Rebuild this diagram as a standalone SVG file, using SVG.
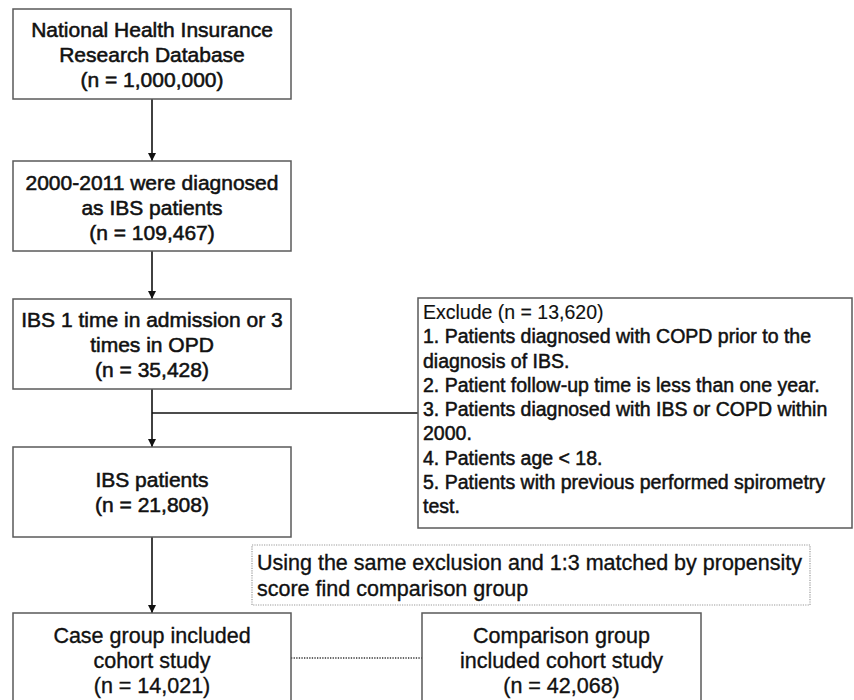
<svg xmlns="http://www.w3.org/2000/svg" width="854" height="700" viewBox="0 0 854 700">
<defs>
<marker id="arr" viewBox="0 0 10 10" refX="10" refY="5" markerWidth="8" markerHeight="9" markerUnits="userSpaceOnUse" orient="auto">
<path d="M0,0 L10,5 L0,10 z" fill="#111"/>
</marker>
<style>
.box{fill:#fff;stroke:#5a5a5a;stroke-width:1.5}
.dbox{fill:#fff;stroke:#9a9a9a;stroke-width:1.2;stroke-dasharray:1.2 1.2}
.t{font-family:"Liberation Sans",Arial,sans-serif;font-size:21px;fill:#111;text-anchor:middle;stroke:#111;stroke-width:0.55}
.b{font-size:21.5px;stroke-width:0.35}
.x{font-family:"Liberation Sans",Arial,sans-serif;font-size:19.5px;fill:#111;stroke:#111;stroke-width:0.5}
.xh{stroke-width:0.15}
.ln{stroke:#111;stroke-width:1.6;fill:none}
.dl{stroke:#333;stroke-width:1.3;stroke-dasharray:1.3 1.3;fill:none}
</style>
</defs>
<rect width="854" height="700" fill="#fff"/>
<g id="connectors">
<line class="ln" x1="152" y1="99" x2="152" y2="161" marker-end="url(#arr)"/>
<line class="ln" x1="152" y1="251" x2="152" y2="299" marker-end="url(#arr)"/>
<line class="ln" x1="152" y1="389" x2="152" y2="447" marker-end="url(#arr)"/>
<line class="ln" x1="152" y1="413" x2="418" y2="413"/>
<line class="ln" x1="152" y1="537" x2="152" y2="613" marker-end="url(#arr)"/>
<line class="dl" x1="291" y1="658" x2="422" y2="658"/>
</g>
<g id="n1">
<rect class="box" x="13" y="9" width="278" height="90"/>
<text class="t" x="152" y="37">National Health Insurance</text>
<text class="t" x="152" y="62">Research Database</text>
<text class="t" x="152" y="87">(n = 1,000,000)</text>
</g>
<g id="n2">
<rect class="box" x="13" y="161" width="278" height="90"/>
<text class="t" x="152" y="190">2000-2011 were diagnosed</text>
<text class="t" x="152" y="215">as IBS patients</text>
<text class="t" x="152" y="240">(n = 109,467)</text>
</g>
<g id="n3">
<rect class="box" x="13" y="299" width="278" height="90"/>
<text class="t" x="152" y="327">IBS 1 time in admission or 3</text>
<text class="t" x="152" y="352">times in OPD</text>
<text class="t" x="152" y="377">(n = 35,428)</text>
</g>
<g id="exclude">
<rect class="box" x="418" y="298" width="434" height="230"/>
<text class="x xh" x="423" y="319">Exclude (n = 13,620)</text>
<text class="x" x="423" y="343">1. Patients diagnosed with COPD prior to the</text>
<text class="x" x="423" y="367.5">diagnosis of IBS.</text>
<text class="x" x="423" y="392">2. Patient follow-up time is less than one year.</text>
<text class="x" x="423" y="416">3. Patients diagnosed with IBS or COPD within</text>
<text class="x" x="423" y="440">2000.</text>
<text class="x" x="423" y="464.5">4. Patients age &lt; 18.</text>
<text class="x" x="423" y="489">5. Patients with previous performed spirometry</text>
<text class="x" x="423" y="513">test.</text>
</g>
<g id="n4">
<rect class="box" x="13" y="447" width="278" height="90"/>
<text class="t" x="152" y="487">IBS patients</text>
<text class="t" x="152" y="512">(n = 21,808)</text>
</g>
<g id="note">
<rect class="dbox" x="252" y="545" width="558" height="60"/>
<text class="t b" x="257" y="570" style="text-anchor:start">Using the same exclusion and 1:3 matched by propensity</text>
<text class="t b" x="257" y="596" style="text-anchor:start">score find comparison group</text>
</g>
<g id="case">
<rect class="box" x="13" y="613" width="278" height="100"/>
<text class="t b" x="152" y="643">Case group included</text>
<text class="t b" x="152" y="668">cohort study</text>
<text class="t b" x="152" y="693">(n = 14,021)</text>
</g>
<g id="comparison">
<rect class="box" x="422" y="613" width="279" height="100"/>
<text class="t b" x="561.5" y="643">Comparison group</text>
<text class="t b" x="561.5" y="668">included cohort study</text>
<text class="t b" x="561.5" y="693">(n = 42,068)</text>
</g>
</svg>
